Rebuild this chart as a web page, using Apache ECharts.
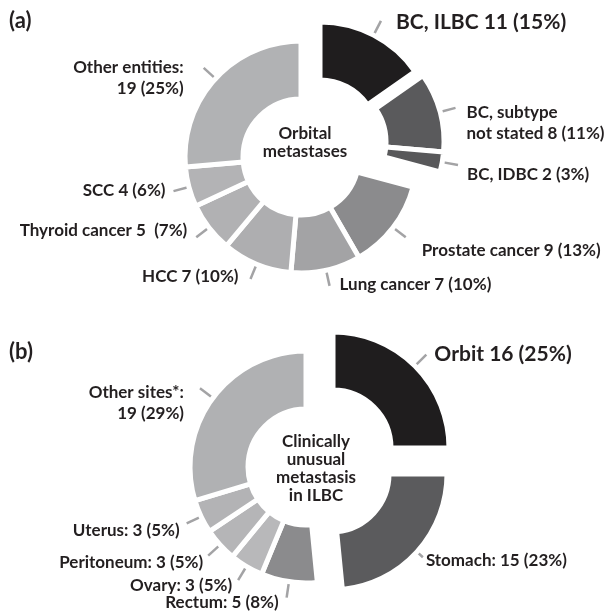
<!DOCTYPE html>
<html><head><meta charset="utf-8">
<script src="https://cdn.jsdelivr.net/npm/echarts@6/dist/echarts.min.js"></script>
<style>html,body{margin:0;padding:0;background:#fff}#c{width:611px;height:613px}</style>
</head><body><div id="c"></div>
<script>
// Panel (a): Orbital metastases
const namesA = ['BC, ILBC', 'BC, subtype\nnot stated', 'BC, IDBC', 'Prostate cancer', 'Lung cancer', 'HCC', 'Thyroid cancer', 'SCC', 'Other entities:'];
const valuesA = [11, 8, 2, 9, 7, 7, 5, 4, 19];
const pctA = [15, 11, 3, 13, 10, 10, 7, 6, 25];
const sepA = [' ', ' ', ' ', ' ', ' ', ' ', ' ', ' ', '\n'];
const gapA = [' ', ' ', ' ', ' ', ' ', ' ', '  ', ' ', ' '];

// Panel (b): Clinically unusual metastasis in ILBC
const namesB = ['Orbit', 'Stomach:', 'Rectum:', 'Ovary:', 'Peritoneum:', 'Uterus:', 'Other sites*:'];
const valuesB = [16, 15, 5, 3, 3, 3, 19];
const pctB = [25, 23, 8, 5, 5, 5, 29];
const sepB = [' ', ' ', ' ', ' ', ' ', ' ', '\n'];
const gapB = [' ', ' ', ' ', ' ', ' ', ' ', ' '];

// ---- styles (not data) ----
const colorsA = ['#1f1d1e', '#5a5a5c', '#58585a', '#8b8b8d', '#a3a3a5', '#aeaeb0', '#b1b1b3', '#b3b3b5', '#b1b2b4'];
const colorsB = ['#1f1d1e', '#5b5b5d', '#8b8b8d', '#b8b8ba', '#b5b5b7', '#b3b3b5', '#b0b1b3'];
// slice explosion (pixel shift of a slice away from the ring)
const explodeA = [[19, -19], [27, -15], [27, -15], [0, 0], [0, 0], [0, 0], [0, 0], [0, 0], [0, 0]];
const explodeB = [[27, -19], [25, 7], [0, 0], [0, 0], [0, 0], [0, 0], [0, 0]];
// label line lengths and fine label nudges (text only)
const lineLenA = [16, 16, 16, 16, 16, 16, 16, 16, 16];
const lineLenB = [16, 8, 16, 16, 16, 16, 16];
const nudgeA = [[7, 1], [3, 15], [1, 10], [8, 13], [2, -1], [-4, -2], [-1, -7], [0, -1], [-12, 10]];
const nudgeB = [[0, 0], [-5, 3], [0, 5], [2, 5], [3, 7], [1, 7], [-8, 15]];

const FONT = 'Lato';
const TXT = '#231f20';

function panelSeries(center, names, values, pct, sep, gap, colors, explode, lineLen, nudge) {
  const keys = [];
  explode.forEach(v => { const k = v.join(','); if (keys.indexOf(k) < 0) keys.push(k); });
  return keys.map(k => {
    const off = k.split(',').map(Number);
    return {
      type: 'pie',
      center: [center[0] + off[0], center[1] + off[1]],
      radius: [58, 116],
      startAngle: 90,
      clockwise: true,
      avoidLabelOverlap: false,
      animation: false,
      silent: true,
      itemStyle: { borderColor: '#ffffff', borderWidth: 5 },
      label: {
        show: true, position: 'outside', color: TXT, fontFamily: FONT, fontWeight: 'bold',
        lineHeight: 21, distanceToLabelLine: 8
      },
      labelLine: { show: true, length: 16, length2: 0, lineStyle: { color: '#a3a3a5', width: 2.5 } },
      labelLayout: function (p) {
        const n = nudge[p.dataIndex] || [0, 0];
        return { dx: n[0], dy: n[1] };
      },
      emphasis: { disabled: true },
      data: names.map((n, i) => {
        const vis = explode[i].join(',') === k;
        return {
          name: n,
          value: values[i],
          itemStyle: { color: colors[i], opacity: vis ? 1 : 0 },
          label: { show: vis, formatter: n + sep[i] + values[i] + gap[i] + '(' + pct[i] + '%)', fontSize: i === 0 ? 21 : 17 },
          labelLine: { show: vis, length: lineLen[i] }
        };
      })
    };
  });
}

const chart = echarts.init(document.getElementById('c'), null, { renderer: 'canvas' });
const CA = [301, 157], CB = [306, 467];
chart.setOption({
  backgroundColor: '#ffffff',
  animation: false,
  graphic: [
    { type: 'text', left: 9, top: 10, style: { text: '(a)', font: 'bold 22px Lato', fill: TXT } },
    { type: 'text', left: 9, top: 341, style: { text: '(b)', font: 'bold 22px Lato', fill: TXT } },
    { type: 'text', x: CA[0] + 4, y: CA[1] - 14, style: { text: 'Orbital\nmetastases', font: 'bold 17px Lato', fill: TXT, align: 'center', verticalAlign: 'middle', lineHeight: 18 } },
    { type: 'text', x: CB[0] + 10, y: CB[1] + 2, style: { text: 'Clinically\nunusual\nmetastasis\nin ILBC', font: 'bold 17px Lato', fill: TXT, align: 'center', verticalAlign: 'middle', lineHeight: 18 } }
  ],
  series: [].concat(
    panelSeries(CA, namesA, valuesA, pctA, sepA, gapA, colorsA, explodeA, lineLenA, nudgeA),
    panelSeries(CB, namesB, valuesB, pctB, sepB, gapB, colorsB, explodeB, lineLenB, nudgeB)
  )
});
</script></body></html>
